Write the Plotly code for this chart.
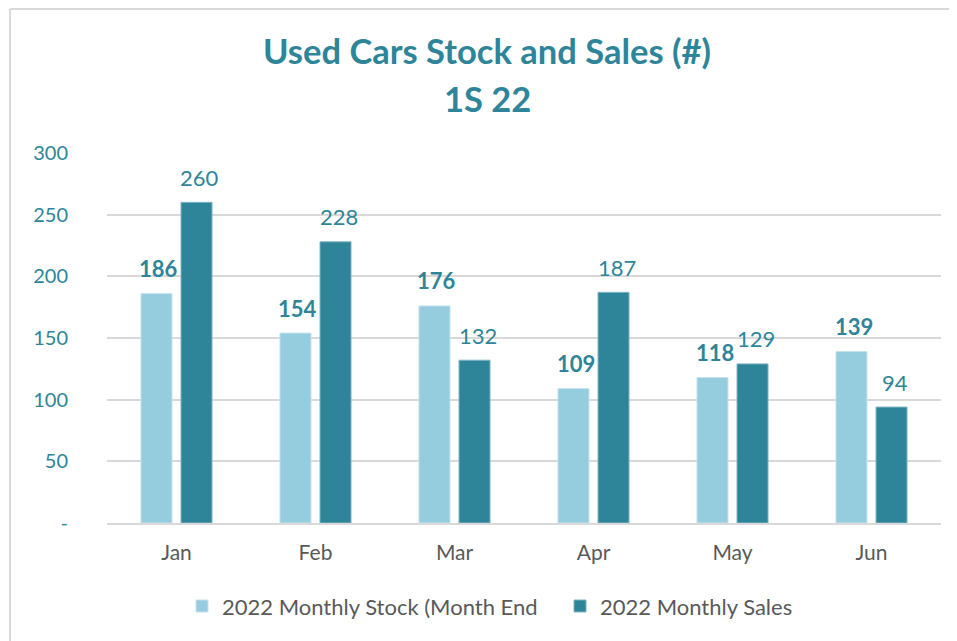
import plotly.graph_objects as go

months = ["Jan", "Feb", "Mar", "Apr", "May", "Jun"]
stock = [186, 154, 176, 109, 118, 139]
sales = [260, 228, 132, 187, 129, 94]
y_ticks = [0, 50, 100, 150, 200, 250, 300]
y_ticktext = ["-", "50", "100", "150", "200", "250", "300"]

TEAL = "#2E8599"
LIGHT = "#95CDDE"
GREY = "#595959"
FONT = "Lato"

fig = go.Figure()
fig.add_trace(go.Bar(
    x=months, y=stock, name="2022 Monthly Stock (Month End",
    marker=dict(color=LIGHT, line=dict(color="#c4e3ec", width=1)),
))
fig.add_trace(go.Bar(
    x=months, y=sales, name="2022 Monthly Sales",
    marker=dict(color=TEAL, line=dict(color="#7fb5c3", width=1)),
))

# value labels sit a bit higher above the bars than plotly's "outside" text
for m, s, v in zip(months, stock, sales):
    fig.add_annotation(x=m, y=s, text=str(s), showarrow=False, xshift=-18,
                       yshift=25, yanchor="middle",
                       font=dict(family=FONT, size=22, color=TEAL, weight="bold"))
    fig.add_annotation(x=m, y=v, text=str(v), showarrow=False, xshift=23,
                       yshift=25, yanchor="middle",
                       font=dict(family=FONT, size=22, color=TEAL))

# the page body adds an 8px offset, so the figure is a bit smaller
W, H = 949, 633
L, R, T, B = 99, 16, 145, 118
pw, ph = W - L - R, H - T - B

def px_x(v):
    return (v - L) / pw

def px_y(v):
    return (H - B - v) / ph

fig.add_annotation(text="Used Cars Stock and Sales (#)", xref="paper", yref="paper",
                   x=px_x(479), y=px_y(43), showarrow=False, yanchor="middle",
                   font=dict(family=FONT, size=34.5, color=TEAL, weight="bold"))
fig.add_annotation(text="1S 22", xref="paper", yref="paper",
                   x=px_x(479), y=px_y(91), showarrow=False, yanchor="middle",
                   font=dict(family=FONT, size=34.5, color=TEAL, weight="bold"))

fig.update_layout(
    width=W, height=H,
    margin=dict(l=L, r=R, t=T, b=B),
    paper_bgcolor="white", plot_bgcolor="white",
    font=dict(family=FONT, size=20, color=GREY),
    barmode="group", bargap=0.424, bargroupgap=0.225,
    showlegend=True,
    legend=dict(
        orientation="h", x=174 / W, xanchor="left", xref="container",
        y=0.055, yanchor="middle", yref="container",
        font=dict(family=FONT, size=22, color=GREY),
        itemwidth=30, traceorder="normal", entrywidth=333,
    ),
    xaxis=dict(
        showgrid=False, showline=True, linecolor="#d9d9d9", linewidth=2,
        ticks="", tickfont=dict(family=FONT, size=21, color=GREY),
        ticklabelstandoff=10,
    ),
    yaxis=dict(
        range=[0, 300], tickvals=y_ticks, ticktext=y_ticktext,
        showgrid=True, gridcolor="#d9d9d9", gridwidth=1.5,
        zeroline=False, showline=False, ticks="",
        tickfont=dict(family=FONT, size=20, color=TEAL),
        ticklabelstandoff=38,
    ),
    shapes=[
        dict(type="line", xref="paper", yref="paper",
             x0=px_x(2), x1=px_x(2), y0=px_y(1), y1=px_y(H),
             line=dict(color="#d9d9d9", width=2)),
        dict(type="line", xref="paper", yref="paper",
             x0=px_x(2), x1=px_x(W), y0=px_y(1), y1=px_y(1),
             line=dict(color="#d9d9d9", width=2)),
    ],
)

fig.write_html("out.html")
